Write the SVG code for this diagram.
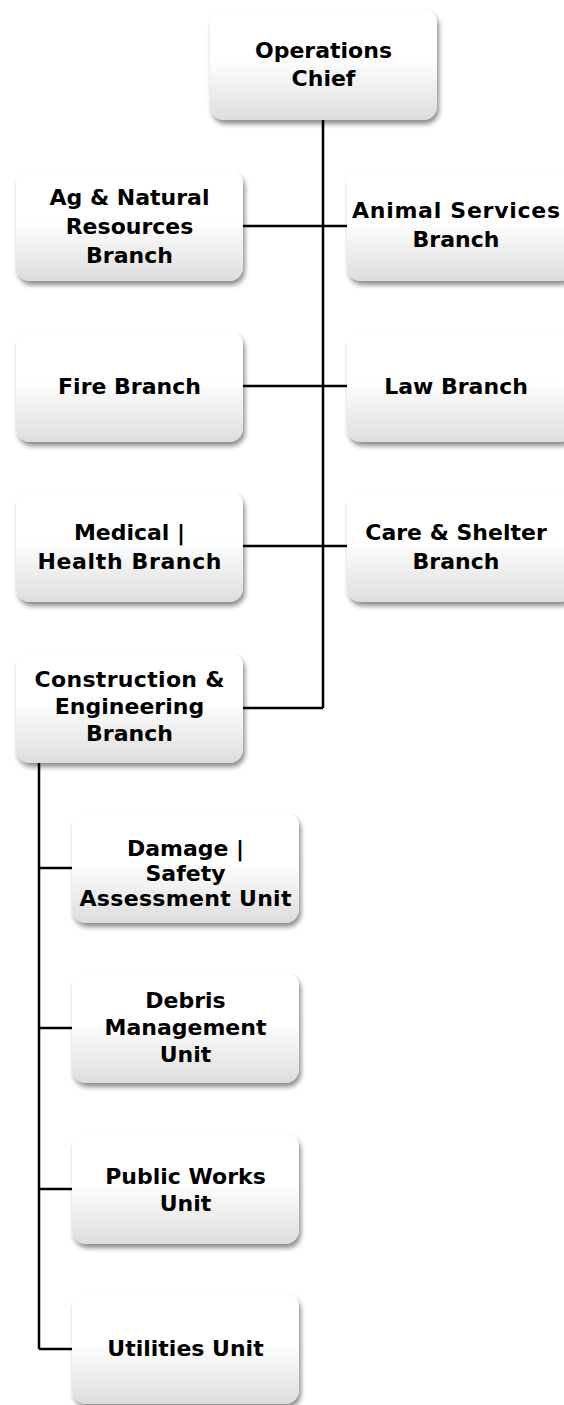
<svg xmlns="http://www.w3.org/2000/svg" width="564" height="1405" viewBox="0 0 564 1405">
<style>
.box{fill:url(#g);filter:url(#sh);}
.t{font-family:"DejaVu Sans","Liberation Sans",sans-serif;font-weight:bold;font-size:22px;fill:#000;text-anchor:middle;}
.c{stroke:#000;stroke-width:2.5;fill:none;}
</style>
<defs>
<linearGradient id="g" x1="0" y1="0" x2="0" y2="1">
<stop offset="0" stop-color="#ffffff"/>
<stop offset="0.45" stop-color="#ffffff"/>
<stop offset="1" stop-color="#dddddd"/>
</linearGradient>
<filter id="sh" x="-10%" y="-10%" width="125%" height="135%">
<feDropShadow dx="2" dy="4" stdDeviation="2.5" flood-color="#000" flood-opacity="0.45"/>
</filter>
</defs>
<rect width="564" height="1405" fill="#fff"/>
<g id="connectors">
<path class="c" d="M323 120V708M243 226H347M243 386H347M243 546H347M243 708H323"/>
<path class="c" d="M39 763V1349M39 868H72M39 1028H72M39 1189H72M39 1349H72"/>
</g>
<g id="chief"><rect class="box" x="210" y="9" width="227" height="111" rx="14"/>
<text class="t" x="323.5" y="58">Operations</text><text class="t" x="323.5" y="86">Chief</text></g>
<g id="ag"><rect class="box" x="16" y="170" width="227" height="111" rx="14"/>
<text class="t" x="129.5" y="205">Ag &amp; Natural</text><text class="t" x="129.5" y="234">Resources</text><text class="t" x="129.5" y="263">Branch</text></g>
<g id="animal"><rect class="box" x="347" y="170" width="227" height="111" rx="14"/>
<text class="t" x="456" y="218" textLength="208">Animal Services</text><text class="t" x="456" y="247">Branch</text></g>
<g id="fire"><rect class="box" x="16" y="331" width="227" height="111" rx="14"/>
<text class="t" x="129.5" y="394">Fire Branch</text></g>
<g id="law"><rect class="box" x="347" y="331" width="227" height="111" rx="14"/>
<text class="t" x="456" y="394">Law Branch</text></g>
<g id="medical"><rect class="box" x="16" y="491" width="227" height="111" rx="14"/>
<text class="t" x="129.5" y="540">Medical |</text><text class="t" x="129.5" y="569" textLength="184">Health Branch</text></g>
<g id="care"><rect class="box" x="347" y="491" width="227" height="111" rx="14"/>
<text class="t" x="456" y="540">Care &amp; Shelter</text><text class="t" x="456" y="569">Branch</text></g>
<g id="construction"><rect class="box" x="16" y="652" width="227" height="111" rx="14"/>
<text class="t" x="129.5" y="687" textLength="190">Construction &amp;</text><text class="t" x="129.5" y="714">Engineering</text><text class="t" x="129.5" y="741">Branch</text></g>
<g id="damage"><rect class="box" x="72" y="812" width="227" height="111" rx="14"/>
<text class="t" x="185.5" y="856">Damage |</text><text class="t" x="185.5" y="881">Safety</text><text class="t" x="185.5" y="906" textLength="212">Assessment Unit</text></g>
<g id="debris"><rect class="box" x="72" y="972" width="227" height="111" rx="14"/>
<text class="t" x="185.5" y="1008">Debris</text><text class="t" x="185.5" y="1035">Management</text><text class="t" x="185.5" y="1062">Unit</text></g>
<g id="public"><rect class="box" x="72" y="1133" width="227" height="111" rx="14"/>
<text class="t" x="185.5" y="1184">Public Works</text><text class="t" x="185.5" y="1211">Unit</text></g>
<g id="utilities"><rect class="box" x="72" y="1293" width="227" height="111" rx="14"/>
<text class="t" x="185.5" y="1356">Utilities Unit</text></g>
</svg>
